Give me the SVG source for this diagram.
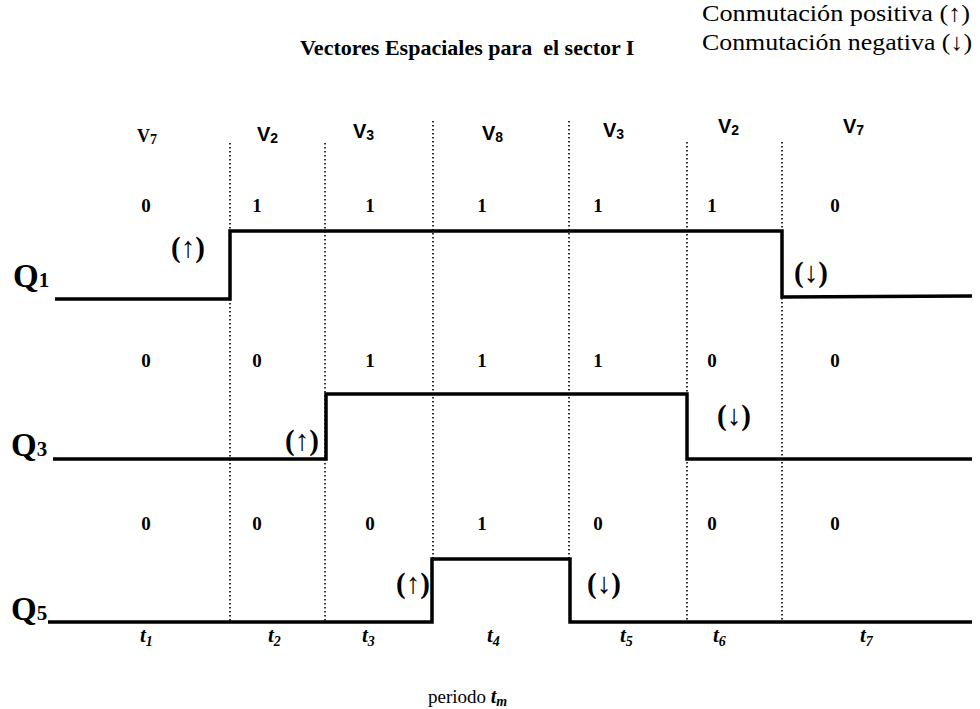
<svg xmlns="http://www.w3.org/2000/svg" width="980" height="709" viewBox="0 0 980 709">
<style>
.title{font-family:"Liberation Serif",serif;font-weight:bold;font-size:22px;fill:#000;white-space:pre}
.legend{font-family:"Liberation Serif",serif;font-size:24px;fill:#000}
.v{font-family:"Liberation Sans",Arial,sans-serif;font-weight:bold;font-size:20px;fill:#000}
.vs{font-size:14px}
.bit{font-family:"Liberation Serif",serif;font-weight:bold;font-size:19px;fill:#000;text-anchor:middle}
.q{font-family:"Liberation Serif",serif;font-weight:bold;font-size:33px;fill:#000}
.qs{font-size:21px}
.arr{font-family:"Liberation Serif","DejaVu Serif",serif;font-weight:bold;font-size:29px;fill:#000}
.t{font-family:"Liberation Serif",serif;font-weight:bold;font-style:italic;font-size:21px;fill:#000}
.ts{font-size:14px}
.per{font-family:"Liberation Serif",serif;font-size:19px;fill:#000}
.dot{stroke:#000;stroke-width:1.6;stroke-dasharray:1.6 2.4;fill:none}
.wave{stroke:#000;stroke-width:3.5;fill:none;stroke-linejoin:miter}
</style>
<rect width="980" height="709" fill="#fff"/>
<text class="title" x="300" y="55" xml:space="preserve">Vectores Espaciales para  el sector I</text>
<g id="legend">
<text class="legend" x="702" y="21" textLength="268" lengthAdjust="spacingAndGlyphs">Conmutación positiva (↑)</text>
<text class="legend" x="702" y="50" textLength="270" lengthAdjust="spacingAndGlyphs">Conmutación negativa (↓)</text>
</g>
<g id="connectors">
<line class="dot" x1="230" y1="143" x2="230" y2="622"/>
<line class="dot" x1="325" y1="143" x2="325" y2="622"/>
<line class="dot" x1="433" y1="121" x2="433" y2="560"/>
<line class="dot" x1="569" y1="121" x2="569" y2="560"/>
<line class="dot" x1="687" y1="142" x2="687" y2="622"/>
<line class="dot" x1="782" y1="142" x2="782" y2="622"/>
</g>
<g id="vectors">
<text class="v" x="137" y="142" style="font-family:'Liberation Serif',serif;font-size:18px">V<tspan class="vs" dy="2">7</tspan></text>
<text class="v" x="257" y="141">V<tspan class="vs" dy="2">2</tspan></text>
<text class="v" x="353" y="138">V<tspan class="vs" dy="2">3</tspan></text>
<text class="v" x="482" y="140">V<tspan class="vs" dy="2">8</tspan></text>
<text class="v" x="603" y="137">V<tspan class="vs" dy="2">3</tspan></text>
<text class="v" x="718" y="133">V<tspan class="vs" dy="2">2</tspan></text>
<text class="v" x="843" y="133">V<tspan class="vs" dy="2">7</tspan></text>
</g>
<g id="Q1">
<text class="q" x="13" y="287">Q<tspan class="qs">1</tspan></text>
<g class="bits">
<text class="bit" x="146" y="212">0</text><text class="bit" x="257" y="212">1</text><text class="bit" x="370" y="212">1</text><text class="bit" x="482" y="212">1</text><text class="bit" x="598" y="212">1</text><text class="bit" x="712" y="212">1</text><text class="bit" x="835" y="212">0</text>
</g>
<polyline class="wave" points="55,299 230,299 230,231 782,231 782,297 972,296"/>
<text class="arr" x="171" y="257">(↑)</text>
<text class="arr" x="794" y="282">(↓)</text>
</g>
<g id="Q3">
<text class="q" x="11" y="456">Q<tspan class="qs">3</tspan></text>
<g class="bits">
<text class="bit" x="146" y="367">0</text><text class="bit" x="257" y="367">0</text><text class="bit" x="370" y="367">1</text><text class="bit" x="482" y="367">1</text><text class="bit" x="598" y="367">1</text><text class="bit" x="712" y="367">0</text><text class="bit" x="835" y="367">0</text>
</g>
<polyline class="wave" points="53,459 326,459 326,394 687,394 687,459 972,459"/>
<text class="arr" x="285" y="450">(↑)</text>
<text class="arr" x="717" y="425">(↓)</text>
</g>
<g id="Q5">
<text class="q" x="11" y="620">Q<tspan class="qs">5</tspan></text>
<g class="bits">
<text class="bit" x="146" y="530">0</text><text class="bit" x="257" y="530">0</text><text class="bit" x="370" y="530">0</text><text class="bit" x="482" y="530">1</text><text class="bit" x="598" y="530">0</text><text class="bit" x="712" y="530">0</text><text class="bit" x="835" y="530">0</text>
</g>
<polyline class="wave" points="48,622 432,622 432,559 570,559 570,622 972,622"/>
<text class="arr" x="396" y="593">(↑)</text>
<text class="arr" x="587" y="593">(↓)</text>
</g>
<g id="times">
<text class="t" x="140" y="642">t<tspan class="ts" dy="4">1</tspan></text>
<text class="t" x="268" y="642">t<tspan class="ts" dy="4">2</tspan></text>
<text class="t" x="362" y="642">t<tspan class="ts" dy="4">3</tspan></text>
<text class="t" x="487" y="642">t<tspan class="ts" dy="4">4</tspan></text>
<text class="t" x="620" y="642">t<tspan class="ts" dy="4">5</tspan></text>
<text class="t" x="713" y="642">t<tspan class="ts" dy="4">6</tspan></text>
<text class="t" x="860" y="642">t<tspan class="ts" dy="4">7</tspan></text>
</g>
<text class="per" x="428" y="703">periodo <tspan style="font-weight:bold;font-style:italic;font-size:20px">t</tspan><tspan style="font-weight:bold;font-style:italic;font-size:14px" dy="3">m</tspan></text>
</svg>
